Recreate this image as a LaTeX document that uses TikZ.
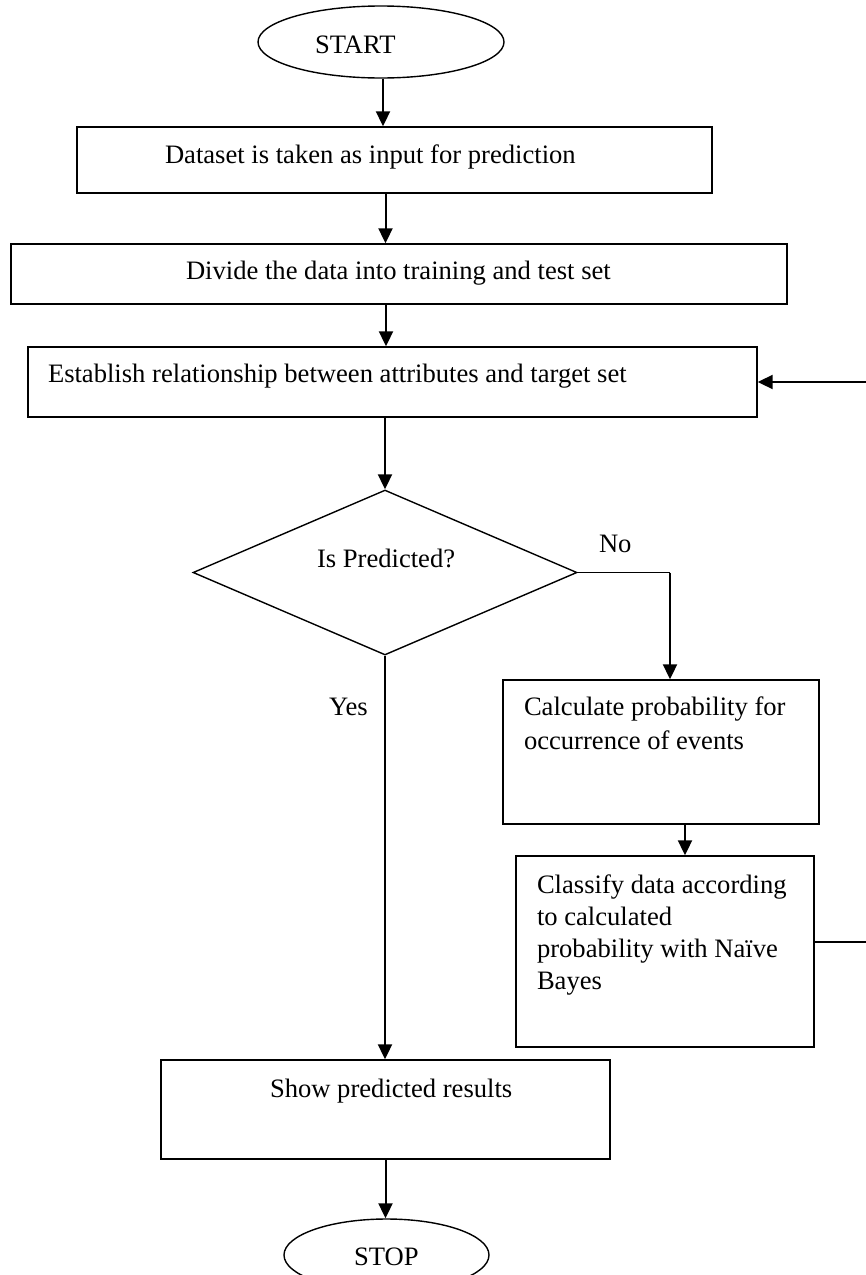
\documentclass[tikz,border=0pt]{standalone}
\usepackage{fontspec}
\setmainfont{Liberation Serif}
\usetikzlibrary{shapes.geometric,arrows.meta}
\tikzset{
  box/.style={draw=black,line width=1.4pt,rectangle,inner sep=0pt},
  oval/.style={draw=black,line width=1.4pt,ellipse,inner sep=0pt},
  decision/.style={draw=black,line width=1.4pt,diamond,inner sep=0pt},
  txt/.style={inner sep=0pt,outer sep=0pt,align=left,font=\fontsize{26.6pt}{32pt}\selectfont},
  tip/.style={-{Triangle[length=15pt,width=14pt]}},
  arr/.style={line width=2pt,tip},
  thin/.style={line width=1.4pt}
}
\begin{document}
\begin{tikzpicture}[x=1pt,y=-1pt]
\useasboundingbox[fill=white] (0,0) rectangle (866,1275);
% shapes
\node[oval,minimum width=246pt,minimum height=72pt] (start) at (381,42) {};
\node[box,minimum width=635pt,minimum height=66pt] (b1) at (394.5,160) {};
\node[box,minimum width=776pt,minimum height=60pt] (b2) at (399,274) {};
\node[box,minimum width=729pt,minimum height=70pt] (b3) at (392.5,382) {};
\node[decision,minimum width=384pt,minimum height=165pt] (dec) at (385,572.5) {};
\node[box,minimum width=316pt,minimum height=144pt] (b4) at (661,752) {};
\node[box,minimum width=298pt,minimum height=191pt] (b5) at (665,951.5) {};
\node[box,minimum width=449pt,minimum height=99pt] (b6) at (385.5,1109.5) {};
\node[oval,minimum width=205pt,minimum height=72pt] (stop) at (386.5,1255) {};
% texts
\node[txt,anchor=base west] (tstart) at (315,53) {START};
\node[txt,anchor=base west] (t1) at (165,163) {Dataset is taken as input for prediction};
\node[txt,anchor=base west] (t2) at (186,279) {Divide the data into training and test set};
\node[txt,anchor=base west] (t3) at (48,382) {Establish relationship between attributes and target set};
\node[txt,anchor=base west] (tdec) at (317,567) {Is Predicted?};
\node[txt,anchor=base west] (tno) at (599,552) {No};
\node[txt,anchor=base west] (tyes) at (329,715) {Yes};
\node[txt,anchor=north west,font=\fontsize{26.6pt}{34pt}\selectfont] (t4) at (524,697) {Calculate probability for\\occurrence of events};
\node[txt,anchor=north west,font=\fontsize{26.6pt}{32pt}\selectfont] (t5) at (537,875) {Classify data according\\to calculated\\probability with Naïve\\Bayes};
\node[txt,anchor=base west] (t6) at (270,1097) {Show predicted results};
\node[txt,anchor=base west] (tstop) at (354,1265) {STOP};
% connectors
\draw[arr] ([xshift=2pt]start.south) -- ([xshift=2pt]start.south |- b1.north);
\draw[arr] ([xshift=-9pt]b1.south) -- ([xshift=-9pt]b1.south |- b2.north);
\draw[arr] ([xshift=-13pt]b2.south) -- ([xshift=-13pt]b2.south |- b3.north);
\draw[arr] (b3.south -| dec.north) -- (dec.north);
\coordinate (nocorner) at ([xshift=9pt]b4.north |- dec.east);
\draw[thin] (dec.east) -- (nocorner);
\draw[arr] (nocorner) -- ([xshift=9pt]b4.north);
\draw[arr] (dec.south) -- (dec.south |- b6.north);
\draw[arr] ([xshift=24pt]b4.south) -- ([xshift=24pt]b4.south |- b5.north);
\draw[arr] (b6.south) -- (b6.south |- stop.north);
\coordinate (fb) at (890,942);
\draw[thin] ([yshift=9.5pt]b5.east) -- (fb);
\draw[arr] (fb) |- (b3.east);
\end{tikzpicture}
\end{document}
